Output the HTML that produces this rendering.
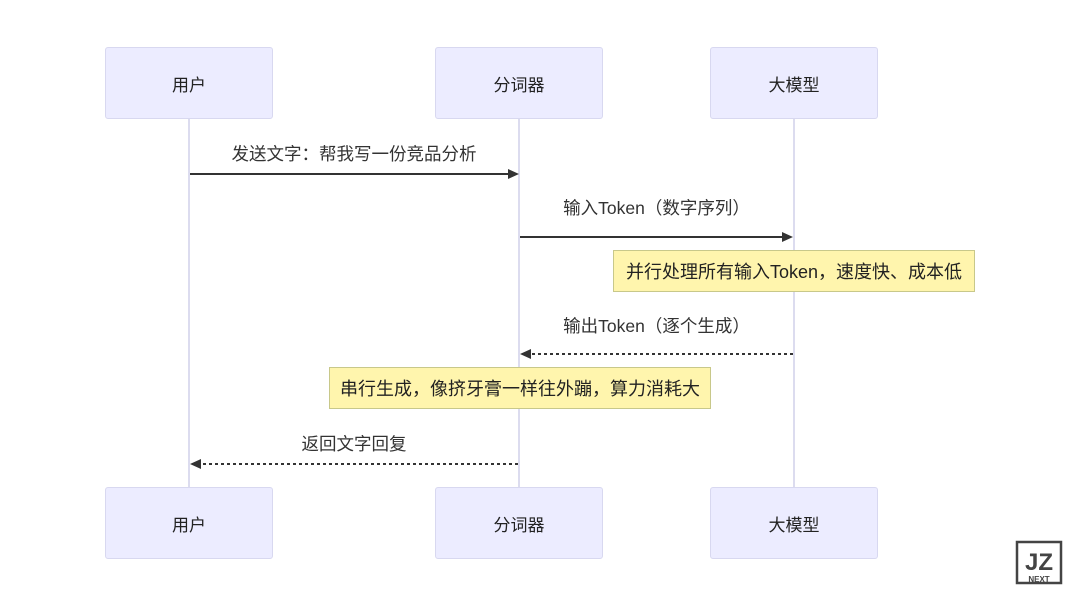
<!DOCTYPE html>
<html><head><meta charset="utf-8"><style>
body{margin:0;width:1080px;height:608px;background:#fff;overflow:hidden;font-family:"Liberation Sans","Noto Sans CJK SC",sans-serif;}
.box{position:absolute;width:168px;height:72px;background:#ececff;border:1px solid #d8d8f0;border-radius:3px;box-sizing:border-box;display:flex;align-items:center;justify-content:center;font-size:17px;color:#222;}
.line{position:absolute;width:2px;background:#dcdcef;top:119px;height:368px;}
.lbl{position:absolute;font-size:17.5px;color:#333;text-align:center;white-space:nowrap;}
.note{position:absolute;background:#fff5ad;border:1px solid #c8c88a;box-sizing:border-box;display:flex;align-items:center;justify-content:center;font-size:18px;color:#222;}
</style></head><body>
<div class="line" style="left:188px"></div>
<div class="line" style="left:518px"></div>
<div class="line" style="left:793px"></div>
<div class="box" style="left:105px;top:47px">用户</div>
<div class="box" style="left:435px;top:47px">分词器</div>
<div class="box" style="left:710px;top:47px">大模型</div>
<div class="box" style="left:105px;top:487px">用户</div>
<div class="box" style="left:435px;top:487px">分词器</div>
<div class="box" style="left:710px;top:487px">大模型</div>
<svg width="1080" height="608" style="position:absolute;left:0;top:0">
<line x1="190" y1="174" x2="510" y2="174" stroke="#333" stroke-width="2"/>
<polygon points="519,174 508,169 508,179" fill="#333"/>
<line x1="520" y1="237" x2="784" y2="237" stroke="#333" stroke-width="2"/>
<polygon points="793,237 782,232 782,242" fill="#333"/>
<line x1="793" y1="354" x2="530" y2="354" stroke="#333" stroke-width="2" stroke-dasharray="3,3"/>
<polygon points="520,354 531,349 531,359" fill="#333"/>
<line x1="518" y1="464" x2="200" y2="464" stroke="#333" stroke-width="2" stroke-dasharray="3,3"/>
<polygon points="190,464 201,459 201,469" fill="#333"/>
<g stroke="#444" fill="none" stroke-width="2.5">
<rect x="1017" y="542" width="44" height="41"/>
</g>
<text x="1039" y="570" font-size="24" font-weight="bold" fill="#444" text-anchor="middle" font-family="Liberation Sans">JZ</text>
<text x="1039" y="582" font-size="8" font-weight="bold" fill="#444" text-anchor="middle" font-family="Liberation Sans">NEXT</text>
</svg>
<div class="lbl" style="left:189px;width:330px;top:141px">发送文字：帮我写一份竞品分析</div>
<div class="lbl" style="left:519px;width:275px;top:195px">输入Token（数字序列）</div>
<div class="note" style="left:613px;top:250px;width:362px;height:42px">并行处理所有输入Token，速度快、成本低</div>
<div class="lbl" style="left:519px;width:275px;top:313px">输出Token（逐个生成）</div>
<div class="note" style="left:329px;top:367px;width:382px;height:42px">串行生成，像挤牙膏一样往外蹦，算力消耗大</div>
<div class="lbl" style="left:189px;width:330px;top:431px">返回文字回复</div>
</body></html>
